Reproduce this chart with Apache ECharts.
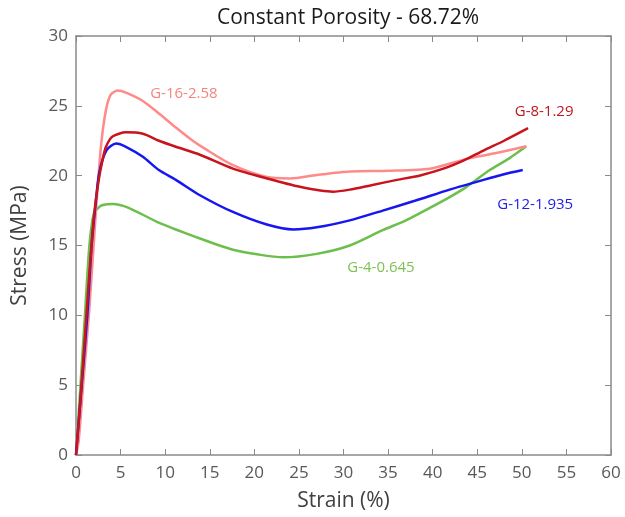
<!DOCTYPE html>
<html>
<head>
<meta charset="utf-8">
<script src="https://cdn.jsdelivr.net/npm/echarts@6/dist/echarts.min.js"></script>
<style>
  html, body { margin: 0; padding: 0; background: #fff; }
  #main { width: 625px; height: 517px; }
</style>
</head>
<body>
<div id="main"></div>
<script>
// strain (%) / stress (MPa)
var g16Strain = [0, 0.3, 0.8, 1.5, 2.24, 2.8, 3.36, 3.9, 4.67, 5.6, 7.5, 9.3, 11.2, 13.1, 14.4, 17.6, 21.4, 24, 27, 30.7, 35, 39.7, 43.8, 47, 50.5];
var g16Stress = [0, 1, 5, 10.5, 17.5, 22.1, 24.7, 25.8, 26.1, 25.95, 25.35, 24.45, 23.45, 22.5, 21.95, 20.75, 19.9, 19.8, 20.05, 20.3, 20.35, 20.5, 21.2, 21.6, 22.1];

var g8Strain = [0, 0.5, 1, 1.5, 2, 2.5, 3, 3.36, 4.1, 5.6, 7.5, 9.3, 11.2, 13.9, 17.6, 21.4, 25.1, 28.8, 30.7, 33, 36, 38.5, 41.2, 43.5, 45.7, 48, 50.7];
var g8Stress = [0, 4, 8.5, 13, 17, 19.5, 21.2, 22.07, 22.8, 23.1, 23.0, 22.5, 22.07, 21.5, 20.5, 19.8, 19.2, 18.85, 19.0, 19.3, 19.7, 20.0, 20.5, 21.1, 21.8, 22.5, 23.4];

var g12Strain = [0, 0.64, 1.27, 1.75, 2.2, 2.6, 3.4, 4.5, 5.6, 7.5, 9.3, 11.2, 13.9, 17.6, 21.4, 24.4, 27, 30.7, 34.4, 38, 41.9, 45.7, 48, 50.1];
var g12Stress = [0, 5, 10, 15, 18, 20.2, 21.8, 22.3, 22.07, 21.35, 20.4, 19.7, 18.6, 17.4, 16.5, 16.15, 16.3, 16.8, 17.5, 18.2, 19.0, 19.7, 20.1, 20.4];

var g4Strain = [0, 0.5, 1, 1.5, 2.0, 2.5, 3.0, 4.1, 5.9, 9.4, 13.9, 17.6, 20.5, 23.2, 27, 30.7, 34.4, 37, 40, 42, 43.8, 46.4, 48.5, 50.5];
var g4Stress = [0, 5, 10, 15, 17.3, 17.7, 17.9, 17.97, 17.7, 16.6, 15.5, 14.7, 14.35, 14.15, 14.4, 15.0, 16.1, 16.8, 17.8, 18.5, 19.2, 20.4, 21.2, 22.1];

var seriesNames = ['G-16-2.58', 'G-8-1.29', 'G-12-1.935', 'G-4-0.645'];
var seriesColors = ['#ff8a8a', '#c8141c', '#1616f0', '#6cbf4c'];
var labelColors = ['#f4857f', '#c0161e', '#2020e8', '#7cc152'];
// where each name sits (strain, stress)
var labelPos = [[12.1, 25.9], [52.5, 24.6], [51.5, 17.9], [34.2, 13.4]];

function pairs(xs, ys) {
    var out = [];
    for (var i = 0; i < xs.length; i++) out.push([xs[i], ys[i]]);
    return out;
}

var allData = [
    pairs(g16Strain, g16Stress),
    pairs(g8Strain, g8Stress),
    pairs(g12Strain, g12Stress),
    pairs(g4Strain, g4Stress)
];

var myChart = echarts.init(document.getElementById('main'));

var font = '"Open Sans", sans-serif';
var axisColor = '#8a8a8a';

var series = [];
// draw order: green, pink, blue, red on top
[3, 0, 2, 1].forEach(function (i) {
    series.push({
        name: seriesNames[i],
        type: 'line',
        data: allData[i],
        showSymbol: false,
        smooth: 0.25,
        lineStyle: { color: seriesColors[i], width: 2.5 },
        markPoint: {
            symbol: 'circle',
            symbolSize: 0,
            data: [{ coord: labelPos[i] }],
            label: {
                show: true,
                position: 'inside',
                formatter: seriesNames[i],
                color: labelColors[i],
                fontSize: 15,
                fontFamily: font
            }
        },
        z: 2
    });
});

function boxAxis(extra) {
    var a = {
        type: 'value',
        axisLine: { show: true, onZero: false, lineStyle: { color: axisColor, width: 1.5 } },
        axisTick: { show: true, inside: true, length: 6, lineStyle: { color: axisColor } },
        splitLine: { show: false }
    };
    for (var k in extra) a[k] = extra[k];
    return a;
}

var option = {
    animation: false,
    title: {
        text: 'Constant Porosity - 68.72%',
        left: 343,
        textAlign: 'center',
        top: 3,
        textStyle: { fontSize: 21, fontWeight: 'normal', color: '#1a1a1a', fontFamily: font }
    },
    grid: { left: 76, right: 14, top: 36, bottom: 62 },
    xAxis: [
        boxAxis({
            min: 0, max: 60, interval: 5,
            name: 'Strain (%)',
            nameLocation: 'middle',
            nameGap: 36,
            nameTextStyle: { fontSize: 21, color: '#404040', fontFamily: font },
            axisLabel: { color: '#595959', fontSize: 17, margin: 10, fontFamily: font }
        }),
        boxAxis({
            position: 'top',
            min: 0, max: 60, interval: 5,
            axisLabel: { show: false }
        })
    ],
    yAxis: [
        boxAxis({
            min: 0, max: 30, interval: 5,
            name: 'Stress (MPa)',
            nameLocation: 'middle',
            nameGap: 45,
            nameTextStyle: { fontSize: 21, color: '#404040', fontFamily: font },
            axisLabel: { color: '#595959', fontSize: 17, margin: 8, fontFamily: font }
        }),
        boxAxis({
            position: 'right',
            min: 0, max: 30, interval: 5,
            axisLabel: { show: false }
        })
    ],
    series: series
};

myChart.setOption(option);
</script>
</body>
</html>
